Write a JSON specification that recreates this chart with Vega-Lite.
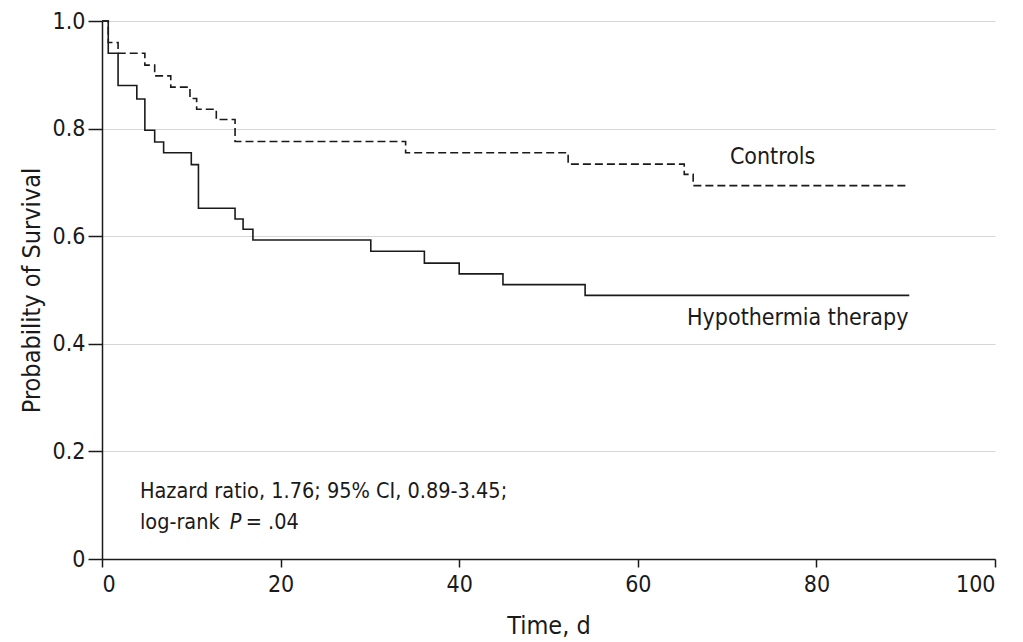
{
  "$schema": "https://vega.github.io/schema/vega-lite/v6.json",
  "width": 893,
  "height": 538,
  "autosize": {"type": "none"},
  "padding": {"left": 102, "top": 21, "right": 28, "bottom": 83},
  "background": "white",
  "config": {
    "view": {"stroke": null},
    "font": "Liberation Sans Narrow, DejaVu Sans Condensed, sans-serif",
    "text": {"font": "Liberation Sans Narrow, DejaVu Sans Condensed, sans-serif", "fontSize": 23, "color": "#1a1a1a"},
    "axis": {
      "labelFont": "Liberation Sans Narrow, DejaVu Sans Condensed, sans-serif",
      "titleFont": "Liberation Sans Narrow, DejaVu Sans Condensed, sans-serif",
      "labelFontSize": 23, "titleFontSize": 25, "titleFontWeight": "normal",
      "labelColor": "#1a1a1a", "titleColor": "#1a1a1a",
      "domainColor": "#1a1a1a", "tickColor": "#1a1a1a", "domainWidth": 1.5, "tickWidth": 1.5
    }
  },
  "datasets": {
    "km": [
      {"group": "Hypothermia therapy", "day": 0, "surv": 1.0},
      {"group": "Hypothermia therapy", "day": 0.7, "surv": 0.94},
      {"group": "Hypothermia therapy", "day": 1.8, "surv": 0.88},
      {"group": "Hypothermia therapy", "day": 3.9, "surv": 0.855},
      {"group": "Hypothermia therapy", "day": 4.8, "surv": 0.797},
      {"group": "Hypothermia therapy", "day": 5.9, "surv": 0.775},
      {"group": "Hypothermia therapy", "day": 6.9, "surv": 0.755},
      {"group": "Hypothermia therapy", "day": 10.0, "surv": 0.733},
      {"group": "Hypothermia therapy", "day": 10.8, "surv": 0.652},
      {"group": "Hypothermia therapy", "day": 14.9, "surv": 0.632},
      {"group": "Hypothermia therapy", "day": 15.8, "surv": 0.613},
      {"group": "Hypothermia therapy", "day": 16.9, "surv": 0.593},
      {"group": "Hypothermia therapy", "day": 30.1, "surv": 0.572},
      {"group": "Hypothermia therapy", "day": 36.1, "surv": 0.55},
      {"group": "Hypothermia therapy", "day": 40.0, "surv": 0.53},
      {"group": "Hypothermia therapy", "day": 44.9, "surv": 0.51},
      {"group": "Hypothermia therapy", "day": 54.1, "surv": 0.49},
      {"group": "Hypothermia therapy", "day": 90.4, "surv": 0.49},
      {"group": "Controls", "day": 0, "surv": 1.0},
      {"group": "Controls", "day": 0.7, "surv": 0.96},
      {"group": "Controls", "day": 1.8, "surv": 0.94},
      {"group": "Controls", "day": 4.8, "surv": 0.918},
      {"group": "Controls", "day": 5.9, "surv": 0.898},
      {"group": "Controls", "day": 7.7, "surv": 0.877},
      {"group": "Controls", "day": 9.85, "surv": 0.856},
      {"group": "Controls", "day": 10.6, "surv": 0.836},
      {"group": "Controls", "day": 12.8, "surv": 0.817},
      {"group": "Controls", "day": 14.9, "surv": 0.776},
      {"group": "Controls", "day": 34.0, "surv": 0.755},
      {"group": "Controls", "day": 52.2, "surv": 0.734},
      {"group": "Controls", "day": 65.2, "surv": 0.715},
      {"group": "Controls", "day": 66.2, "surv": 0.694},
      {"group": "Controls", "day": 90.4, "surv": 0.694}
    ]
  },
  "layer": [
    {
      "data": {"name": "km"},
      "mark": {"type": "line", "interpolate": "step-after", "strokeWidth": 1.6, "color": "#1a1a1a"},
      "encoding": {
        "x": {"field": "day", "type": "quantitative",
              "scale": {"domain": [0, 100], "nice": false, "zero": false},
              "axis": {"values": [0, 20, 40, 60, 80, 100], "grid": false, "tickSize": 8,
                       "labelPadding": 6, "title": "Time, d", "titlePadding": 17}},
        "y": {"field": "surv", "type": "quantitative",
              "scale": {"domain": [0, 1], "nice": false},
              "axis": {"values": [0, 0.2, 0.4, 0.6, 0.8, 1.0], "grid": true, "gridColor": "#d6d6d6", "gridWidth": 1,
                       "tickSize": 14, "labelPadding": 3,
                       "labelExpr": "datum.value == 0 ? '0' : format(datum.value, '.1f')",
                       "title": "Probability of Survival", "titlePadding": 8}},
        "detail": {"field": "group", "type": "nominal"},
        "strokeDash": {"field": "group", "type": "nominal",
                       "scale": {"domain": ["Hypothermia therapy", "Controls"], "range": [[1, 0], [8, 4]]},
                       "legend": null}
      }
    },
    {
      "data": {"values": [{}]},
      "mark": {"type": "text", "text": "Controls", "align": "center", "baseline": "middle"},
      "encoding": {"x": {"datum": 75.1}, "y": {"datum": 0.747}}
    },
    {
      "data": {"values": [{}]},
      "mark": {"type": "text", "text": "Hypothermia therapy", "align": "right", "baseline": "middle"},
      "encoding": {"x": {"datum": 90.3}, "y": {"datum": 0.448}}
    },
    {
      "data": {"values": [{}]},
      "mark": {"type": "text", "text": "Hazard ratio, 1.76; 95% CI, 0.89-3.45;", "align": "left", "baseline": "middle", "fontSize": 21.5},
      "encoding": {"x": {"datum": 4.25}, "y": {"datum": 0.125}}
    },
    {
      "data": {"values": [{}]},
      "mark": {"type": "text", "text": "log-rank", "align": "left", "baseline": "middle", "fontSize": 21.5},
      "encoding": {"x": {"datum": 4.25}, "y": {"datum": 0.067}}
    },
    {
      "data": {"values": [{}]},
      "mark": {"type": "text", "text": "P", "align": "left", "baseline": "middle", "fontStyle": "italic", "fontSize": 21.5},
      "encoding": {"x": {"datum": 14.3}, "y": {"datum": 0.067}}
    },
    {
      "data": {"values": [{}]},
      "mark": {"type": "text", "text": "= .04", "align": "left", "baseline": "middle", "fontSize": 21.5},
      "encoding": {"x": {"datum": 16.1}, "y": {"datum": 0.067}}
    }
  ]
}
